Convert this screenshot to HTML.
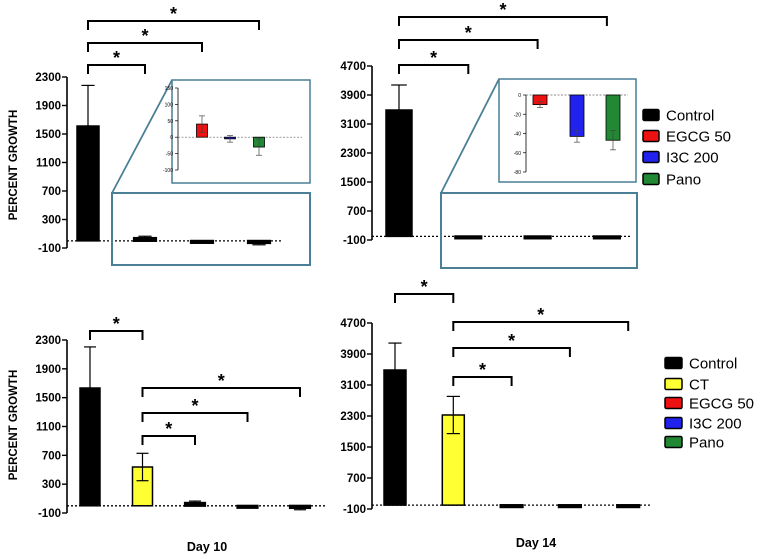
<!DOCTYPE html>
<html><head><meta charset="utf-8">
<style>
html,body{margin:0;padding:0;background:#fff;}
svg{display:block;font-family:"Liberation Sans",sans-serif;}
</style></head>
<body>
<svg id="fig" width="760" height="559" viewBox="0 0 760 559"></svg>
<script>
// ---- data ----
const topGroups = ["Control","EGCG 50","I3C 200","Pano"];
const botGroups = ["Control","CT","EGCG 50","I3C 200","Pano"];
const day10TopValues = [1612, 40, -5, -30];
const day10TopErrors = [570, 25, 10, 25];
const day14TopValues = [3486, -10, -43, -47];
const day14TopErrors = [690, 3, 6, 10];
const day10BotValues = [1634, 538, 40, -5, -30];
const day10BotErrors = [570, 190, 25, 10, 25];
const day14BotValues = [3487, 2326, -10, -43, -47];
const day14BotErrors = [695, 480, 3, 6, 10];
const ticksDay10 = [-100, 300, 700, 1100, 1500, 1900, 2300];
const ticksDay14 = [-100, 700, 1500, 2300, 3100, 3900, 4700];
const insetTicksDay10 = [-100, -50, 0, 50, 100, 150];
const insetTicksDay14 = [-80, -60, -40, -20, 0];
const colorMap = {"Control":"#000","CT":"#ffff33","EGCG 50":"#ee1111","I3C 200":"#2222ee","Pano":"#228833"};

const NS="http://www.w3.org/2000/svg";
const svg=document.getElementById('fig');
function mk(tag,attrs,parent){const e=document.createElementNS(NS,tag);for(const k in attrs)e.setAttribute(k,attrs[k]);(parent||svg).appendChild(e);return e;}
function scale(d0,d1,r0,r1){return v=>r0+(v-d0)*(r1-r0)/(d1-d0);}

function panel(o){
  const g=mk('g',{});
  
  
  const y=scale(o.ticks[0],o.ticks[o.ticks.length-1],o.yBottom,o.yTop);
  const x=i=>o.x0+i*o.dx;
  const ax=mk('line',{x1:o.axisX,x2:o.axisX,y1:o.yTop,y2:o.yBottom,stroke:'#000','stroke-width':1.6},g);
  
  
  o.ticks.forEach(t=>{
    mk('line',{x1:o.axisX-5,x2:o.axisX,y1:y(t),y2:y(t),stroke:'#000','stroke-width':1.4},g);
    const tx=mk('text',{x:o.axisX-6,y:y(t)+4,'text-anchor':'end','font-size':11.5,'font-weight':'bold'},g);
    tx.textContent=t;
    
    
  });
  o.values.forEach((v,i)=>{
    const c=colorMap[o.groups[i]];
    const cx=x(i), w=o.bw;
    const y0=y(0), y1=y(v);
    const small=Math.abs(y1-y0)<6;
    const b=mk('rect',{x:cx-w/2,y:Math.min(y0,y1),width:w,height:Math.max(2,Math.abs(y1-y0)),fill:small?'#000':c,stroke:'#000','stroke-width':small?2.2:1.5},g);
    
    
    const e=o.errors[i], dir=v>=0?1:-1;
    const ye=y(v+dir*e);
    mk('line',{x1:cx,x2:cx,y1:y1,y2:ye,stroke:'#000','stroke-width':1.2},g);
    mk('line',{x1:cx-w*0.3,x2:cx+w*0.3,y1:ye,y2:ye,stroke:'#000','stroke-width':1.2},g);
    if(o.twoSided&&o.twoSided[i]){const yl=y(v-e);mk('line',{x1:cx,x2:cx,y1:y1,y2:yl,stroke:'#000','stroke-width':1.2},g);mk('line',{x1:cx-w*0.3,x2:cx+w*0.3,y1:yl,y2:yl,stroke:'#000','stroke-width':1.2},g);}
  });
  const zl=mk('line',{x1:o.axisX,x2:o.zeroEnd,y1:y(0),y2:y(0),stroke:'#000','stroke-width':1.3,'stroke-dasharray':'2,2'},g);
  
  
  o.brackets.forEach(bk=>{
    const [a,b,yy]=bk;
    const p=mk('path',{d:`M${x(a)},${yy+9}V${yy}H${x(b)}V${yy+9}`,fill:'none',stroke:'#000','stroke-width':2},g);
    
    
    const s=mk('text',{x:(x(a)+x(b))/2,y:yy-1,'text-anchor':'middle','font-size':18,'font-weight':'bold'},g);
    s.textContent='*';
    
    
  });
  return {x,y};
}

function inset(o){
  const g=mk('g',{});
  
  
  const y=scale(o.ticks[0],o.ticks[o.ticks.length-1],o.yBottom,o.yTop);
  mk('line',{x1:o.axisX,x2:o.axisX,y1:o.yTop,y2:o.yBottom,stroke:'#000','stroke-width':0.8},g);
  o.ticks.forEach(t=>{
    mk('line',{x1:o.axisX-3,x2:o.axisX,y1:y(t),y2:y(t),stroke:'#000','stroke-width':0.7},g);
    const tx=mk('text',{x:o.axisX-5,y:y(t)+2,'text-anchor':'end','font-size':5},g);
    tx.textContent=t;
    
    
  });
  mk('line',{x1:o.axisX,x2:o.zeroEnd,y1:y(0),y2:y(0),stroke:'#666','stroke-width':0.7,'stroke-dasharray':'2,1.5'},g);
  o.values.forEach((v,i)=>{
    const c=colorMap[o.groups[i]], cx=o.centers[i], w=o.bw;
    const y0=y(0), y1=y(v);
    const b=mk('rect',{x:cx-w/2,y:Math.min(y0,y1),width:w,height:Math.max(1.5,Math.abs(y1-y0)),fill:c,stroke:'#000','stroke-width':0.8},g);
    
    
    const e=o.errors[i];
    [v+e,v-e].forEach(ev=>{const ye=y(ev);mk('line',{x1:cx,x2:cx,y1:y1,y2:ye,stroke:'#444','stroke-width':0.7},g);mk('line',{x1:cx-3,x2:cx+3,y1:ye,y2:ye,stroke:'#444','stroke-width':0.7},g);});
  });
}

function zoomBoxes(big,small){
  const c='#4a7f96';
  const r1=mk('rect',{x:big[0],y:big[1],width:big[2],height:big[3],fill:'none',stroke:c,'stroke-width':2});
  
  
  const r2=mk('rect',{x:small[0],y:small[1],width:small[2],height:small[3],fill:'none',stroke:c,'stroke-width':1.5});
  
  
  mk('line',{x1:big[0],y1:big[1],x2:small[0],y2:small[1],stroke:c,'stroke-width':1.8});
}

function legend(items,x,ys,bw,bh){
  items.forEach((it,i)=>{
    const g=mk('g',{});
    
    
    mk('rect',{x:x,y:ys[i]-bh/2,width:bw,height:bh,fill:colorMap[it],stroke:'#000','stroke-width':1.5,rx:1.5},g);
    const t=mk('text',{x:x+bw+7,y:ys[i]+5.5,'font-size':15},g);
    t.textContent=it;
  });
}

function ylabel(text,x,y){
  const t=mk('text',{x:x,y:y,'text-anchor':'middle','font-size':11.5,'font-weight':'bold',transform:`rotate(-90 ${x} ${y})`});
  t.textContent=text;
  
  
}

panel({name:'panel-day10-top',groups:topGroups,values:day10TopValues,errors:day10TopErrors,ticks:ticksDay10,
  axisX:67,yTop:77,yBottom:248,x0:88,dx:57,bw:22,zeroEnd:283,
  brackets:[[0,1,65],[0,2,43],[0,3,21]]});
zoomBoxes([112,193,198,72],[172,80,138,103]);
inset({name:'inset-day10',groups:topGroups.slice(1),values:day10TopValues.slice(1),errors:day10TopErrors.slice(1),
  ticks:insetTicksDay10,axisX:178,yTop:88,yBottom:170,centers:[202,230,259],bw:11,zeroEnd:302});
ylabel('PERCENT GROWTH',17,165);

panel({name:'panel-day14-top',groups:topGroups,values:day14TopValues,errors:day14TopErrors,ticks:ticksDay14,
  axisX:372,yTop:66,yBottom:240,x0:399,dx:69.3,bw:26,zeroEnd:632,
  brackets:[[0,1,65],[0,2,40],[0,3,17]]});
zoomBoxes([441,193,196,75],[499,79,137,103]);
inset({name:'inset-day14',groups:topGroups.slice(1),values:day14TopValues.slice(1),errors:day14TopErrors.slice(1),
  ticks:insetTicksDay14,axisX:526,yTop:95,yBottom:172,centers:[540,577,613],bw:14,zeroEnd:628});
legend(topGroups,643,[115,136,157,179],16,11);

panel({name:'panel-day10-bottom',groups:botGroups,values:day10BotValues,errors:day10BotErrors,ticks:ticksDay10,
  axisX:67,yTop:340,yBottom:513,x0:90,dx:52.5,bw:20,zeroEnd:325,twoSided:[false,true,false,false,false],
  brackets:[[0,1,331],[1,2,436],[1,3,413],[1,4,388]]});
ylabel('PERCENT GROWTH',17,425);

panel({name:'panel-day14-bottom',groups:botGroups,values:day14BotValues,errors:day14BotErrors,ticks:ticksDay14,
  axisX:372,yTop:323,yBottom:509,x0:395,dx:58.3,bw:22,zeroEnd:652,twoSided:[false,true,false,false,false],
  brackets:[[0,1,294],[1,2,377],[1,3,348],[1,4,322]]});
legend(botGroups,665,[363,384,403,423,442],17,11);

const d10=mk('text',{x:207,y:551,'text-anchor':'middle','font-size':12.5,'font-weight':'bold'});
d10.textContent='Day 10';


const d14=mk('text',{x:536,y:547,'text-anchor':'middle','font-size':12.5,'font-weight':'bold'});
d14.textContent='Day 14';


</script>
</body></html>
